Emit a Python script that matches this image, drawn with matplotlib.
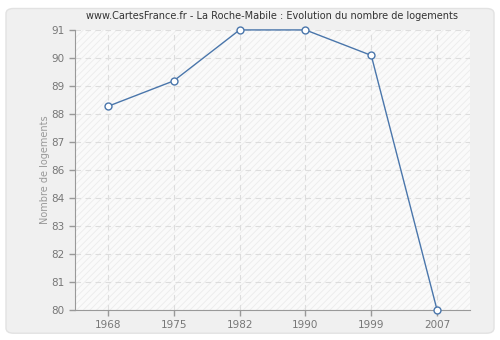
import numpy as np
import matplotlib
matplotlib.use("Agg")
import matplotlib.pyplot as plt
from matplotlib.patches import FancyBboxPatch, Rectangle

years = ["1968", "1975", "1982", "1990", "1999", "2007"]
logements = [88, 89, 91, 91, 90, 80]

# y ticks are spaced 1.1 apart and labels rounded (like the source site)
ytick_pos = np.linspace(80, 91, 11)
ytick_lbl = [str(int(round(v))) for v in ytick_pos]

plt.rcParams["hatch.linewidth"] = 0.6
plt.rcParams["hatch.color"] = "#ececec"

fig = plt.figure(figsize=(5, 3.4), dpi=100)
fig.patch.set_facecolor("white")
bg = FancyBboxPatch((0.012, 0.02), 0.976, 0.955,
                    boxstyle="round,pad=0,rounding_size=0.015",
                    transform=fig.transFigure, facecolor="#f0f0f0",
                    edgecolor="#e2e2e2", linewidth=1, zorder=-10)
fig.patches.append(bg)

ax = fig.add_axes([0.15, 0.088, 0.79, 0.824])
ax.set_zorder(1)
ax.set_facecolor("#fafafa")
ax.add_patch(Rectangle((0, 0), 1, 1, transform=ax.transAxes, facecolor="none",
                       hatch="/////", edgecolor="#ececec", linewidth=0, zorder=0))

x = np.arange(len(years))
ax.plot(x, logements, color="#4a76ab", linewidth=1, marker="o", markersize=5,
        markerfacecolor="white", markeredgecolor="#4a76ab", markeredgewidth=1, zorder=3,
        clip_on=False)

ax.set_xlim(-0.5, 5.5)
ax.set_ylim(80, 91)
ax.set_xticks(x)
ax.set_xticklabels(years)
ax.set_yticks(ytick_pos)
ax.set_yticklabels(ytick_lbl)

ax.grid(True, color="#dddddd", linestyle=(0, (5, 4)), linewidth=0.8)
ax.set_axisbelow(True)

for s in ["top", "right"]:
    ax.spines[s].set_visible(False)
for s in ["left", "bottom"]:
    ax.spines[s].set_color("#999999")
ax.tick_params(colors="#999999", labelcolor="#777777", labelsize=7.5, length=4, width=1)

ax.set_ylabel("Nombre de logements", color="#999999", fontsize=7, labelpad=1)
ax.set_title("www.CartesFrance.fr - La Roche-Mabile : Evolution du nombre de logements",
             fontsize=7, color="#333333", pad=8)

fig.savefig("out.png", dpi=100, facecolor=fig.get_facecolor())
